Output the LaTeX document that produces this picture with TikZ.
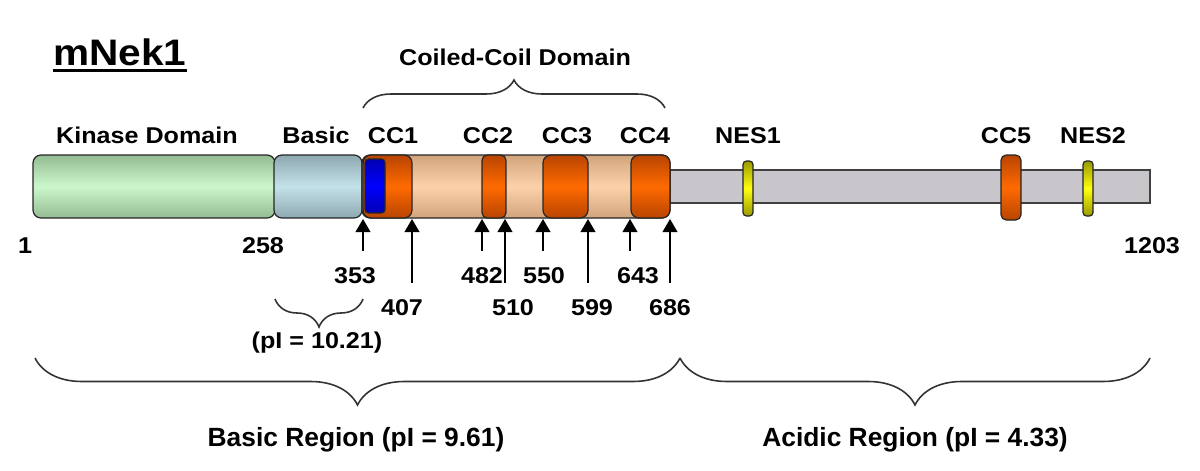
\documentclass[tikz,border=0pt]{standalone}
\usepackage{fontspec}
\setmainfont{Liberation Sans}[FakeStretch=1.1]
\newfontfamily\plainsans{Liberation Sans}
\usetikzlibrary{arrows.meta,decorations.pathreplacing}

\definecolor{kinase}{HTML}{CCF7CC}
\definecolor{kinedge}{HTML}{94BC94}
\definecolor{basic}{HTML}{C4E2EA}
\definecolor{basedge}{HTML}{8EA8B0}
\definecolor{coil}{HTML}{FCD2AA}
\definecolor{coiledge}{HTML}{D2A47C}
\definecolor{cc}{HTML}{FF6A00}
\definecolor{ccedge}{HTML}{B84400}
\definecolor{nes}{HTML}{FFFF10}
\definecolor{nesedge}{HTML}{9A9A00}
\definecolor{tail}{HTML}{C8C6CA}

\tikzset{
  lab/.style={font=\fontsize{13}{15}\selectfont\bfseries, inner sep=2pt, anchor=base},
  reg/.style={font=\plainsans\fontsize{15}{17}\selectfont\bfseries, inner sep=2pt, anchor=base},
  dom/.style={draw=black!85, line width=0.7pt, rounded corners=4.5pt},
  pin/.style={-{Triangle[length=7.5pt,width=8.5pt]}, line width=0.85pt, shorten <=7pt},
  brc/.style={decorate, decoration={brace,amplitude=#1}, line width=0.9pt, draw=black!80},
}

\begin{document}
\begin{tikzpicture}[x=0.02cm, y=-0.02cm]
  \useasboundingbox (0,0) rectangle (1200,470);

  % title
  \node[font=\fontsize{21}{24}\selectfont\bfseries, inner sep=0pt, anchor=base west] (title) at (53,65) {mNek1};
  \draw[line width=1.7pt] ([yshift=-3pt]title.south west) -- ([yshift=-3pt]title.south east);

  % protein bar
  \draw[draw=black!75, line width=0.7pt, fill=tail] (670,170) rectangle (1150,203);
  \shadedraw[dom, top color=kinedge, bottom color=kinedge, middle color=kinase] (33,155) rectangle (275,218);
  \shadedraw[dom, top color=basedge, bottom color=basedge, middle color=basic] (274,155) rectangle (362,218);
  \shadedraw[dom, top color=coiledge, bottom color=coiledge, middle color=coil] (362,155) rectangle (670,218);
  \shadedraw[dom, top color=ccedge, bottom color=ccedge, middle color=cc] (363,155) rectangle (412,218);
  \shadedraw[dom, rounded corners=2pt, top color=blue!70!black, bottom color=blue!70!black, middle color=blue] (365,159) rectangle (385,213);
  \shadedraw[dom, rounded corners=3pt, top color=ccedge, bottom color=ccedge, middle color=cc] (482,155) rectangle (506,218);
  \shadedraw[dom, top color=ccedge, bottom color=ccedge, middle color=cc] (543,155) rectangle (588,218);
  \shadedraw[dom, top color=ccedge, bottom color=ccedge, middle color=cc] (631,155) rectangle (670,218);
  \shadedraw[dom, rounded corners=2pt, top color=nesedge, bottom color=nesedge, middle color=nes] (743,161) rectangle (753,216);
  \shadedraw[dom, rounded corners=3pt, top color=ccedge, bottom color=ccedge, middle color=cc] (1001,155) rectangle (1021,220);
  \shadedraw[dom, rounded corners=2pt, top color=nesedge, bottom color=nesedge, middle color=nes] (1083,161) rectangle (1093,216);

  % domain labels
  \node[lab] (coilD) at (515,65) {Coiled-Coil Domain};
  \node[lab] (kin) at (147,143) {Kinase Domain};
  \node[lab] (bas) at (316,143) {Basic};
  \node[lab] (cc1) at (393,143) {CC1};
  \node[lab] (cc2) at (488,143) {CC2};
  \node[lab] (cc3) at (567,143) {CC3};
  \node[lab] (cc4) at (645,143) {CC4};
  \node[lab] (nes1) at (748,143) {NES1};
  \node[lab] (cc5) at (1006,143) {CC5};
  \node[lab] (nes2) at (1093,143) {NES2};

  % residue numbers
  \node[lab] (n1) at (25,253) {1};
  \node[lab] (n258) at (263,253) {258};
  \node[lab] (n1203) at (1152,253) {1203};

  \coordinate (p353) at (363,219);
  \coordinate (p407) at (412,219);
  \coordinate (p482) at (482,219);
  \coordinate (p510) at (505,219);
  \coordinate (p550) at (543,219);
  \coordinate (p599) at (588,219);
  \coordinate (p643) at (630,219);
  \coordinate (p686) at (670,219);

  \node[lab] (l353) at (355,283) {353};
  \node[lab] (l482) at (482,283) {482};
  \node[lab] (l550) at (544,283) {550};
  \node[lab] (l643) at (638,283) {643};
  \node[lab] (l407) at (402,315) {407};
  \node[lab] (l510) at (513,315) {510};
  \node[lab] (l599) at (592,315) {599};
  \node[lab] (l686) at (670,315) {686};

  \draw[pin] (l353.north -| p353) -- (p353);
  \draw[pin] (l407.north -| p407) -- (p407);
  \draw[pin] (l482.north -| p482) -- (p482);
  \draw[pin] (l510.north -| p510) -- (p510);
  \draw[pin] (l550.north -| p550) -- (p550);
  \draw[pin] (l599.north -| p599) -- (p599);
  \draw[pin] (l643.north -| p643) -- (p643);
  \draw[pin] (l686.north -| p686) -- (p686);

  % braces
  \coordinate (cs) at (363,108);
  \coordinate (ce) at (665,108);
  \draw[brc=0.56cm] (cs) -- (ce);

  \coordinate (bs) at (275,299);
  \coordinate (be) at (363,299);
  \draw[brc=0.56cm, decoration={mirror}] (bs) -- (be);
  \node[lab] (pibas) at (317,348) {(pI = 10.21)};

  \coordinate (r0) at (35,358);
  \coordinate (r1) at (680,358);
  \coordinate (r2) at (1150,358);
  \draw[brc=0.94cm, decoration={mirror}] (r0) -- (r1);
  \draw[brc=0.94cm, decoration={mirror}] (r1) -- (r2);
  \node[reg] (regbas) at (356,446) {Basic Region (pI = 9.61)};
  \node[reg] (regacid) at (915,446) {Acidic Region (pI = 4.33)};
\end{tikzpicture}
\end{document}
